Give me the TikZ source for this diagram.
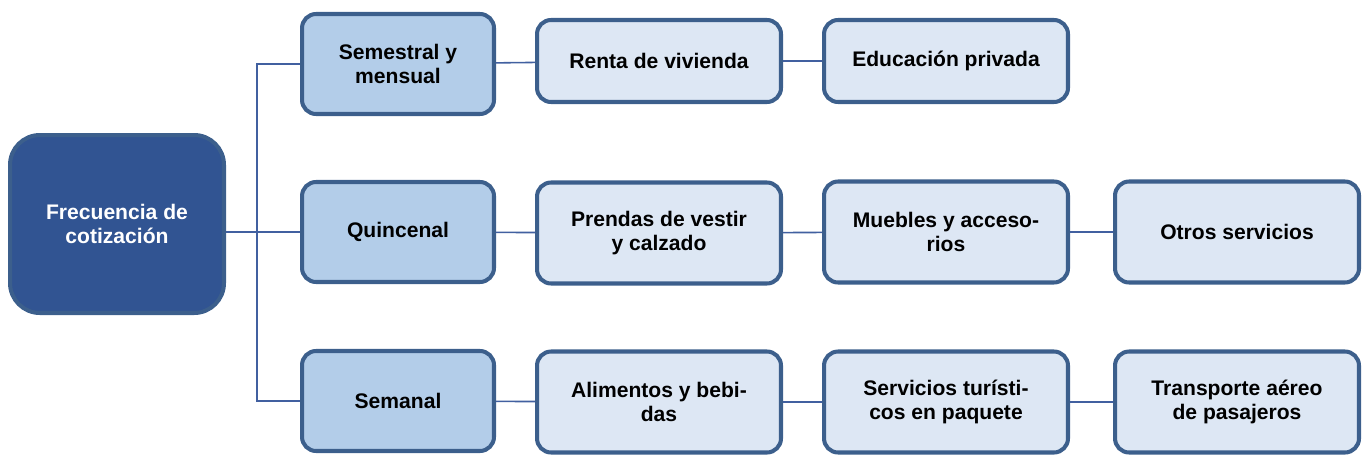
\documentclass[tikz,border=0pt]{standalone}
\usepackage{fontspec}
\setmainfont{Liberation Sans}
\usepackage{tikz}
\definecolor{raiz}{RGB}{49,84,146}
\definecolor{borde}{RGB}{60,95,140}
\definecolor{nivel}{RGB}{179,205,233}
\definecolor{item}{RGB}{221,231,244}
\definecolor{enlace}{RGB}{65,96,160}
\tikzset{
  caja/.style={draw=borde,line width=2.3pt,rounded corners=8pt,align=center,
    font=\bfseries\fontsize{12}{13.6}\selectfont,inner sep=0pt},
  raizbox/.style={caja,fill=raiz,text=white,rounded corners=17pt,
    minimum width=4.28cm,minimum height=3.56cm},
  nivelbox/.style={caja,fill=nivel,minimum width=3.84cm,minimum height=2cm},
  itembox/.style={caja,fill=item,minimum width=4.88cm,minimum height=2.02cm},
  enlace/.style={draw=enlace,line width=0.9pt}
}
\begin{document}
\begin{tikzpicture}[x=0.02cm,y=-0.02cm]
  \useasboundingbox (0,0) rectangle (1364,457);
  \node[raizbox] (raiz) at (117,224) {Frecuencia de\\cotización};
  \node[nivelbox] (sem) at (398,64) {Semestral y\\mensual};
  \node[nivelbox] (qui) at (398,232) {Quincenal};
  \node[nivelbox] (smn) at (398,401) {Semanal};
  \node[itembox,minimum height=1.64cm] (renta) at (659,61) {Renta de vivienda};
  \node[itembox,minimum height=1.64cm] (edu) at (946,61) {Educación privada};
  \node[itembox] (prendas) at (659,233) {Prendas de vestir\\y calzado};
  \node[itembox] (muebles) at (946,232) {Muebles y acceso-\\rios};
  \node[itembox] (otros) at (1237,232) {Otros servicios};
  \node[itembox] (alim) at (659,402) {Alimentos y bebi-\\das};
  \node[itembox] (tur) at (946,402) {Servicios turísti-\\cos en paquete};
  \node[itembox] (aereo) at (1237,402) {Transporte aéreo\\de pasajeros};
  \coordinate (rama) at (257,232);
  \draw[enlace] (raiz.east |- rama) -- (rama) -- (qui.west);
  \draw[enlace] (sem.west) -| (rama) |- (smn.west);
  \draw[enlace] (sem) -- (renta) -- (edu);
  \draw[enlace] (qui) -- (prendas) -- (muebles) -- (otros);
  \draw[enlace] (smn) -- (alim) -- (tur) -- (aereo);
\end{tikzpicture}
\end{document}
